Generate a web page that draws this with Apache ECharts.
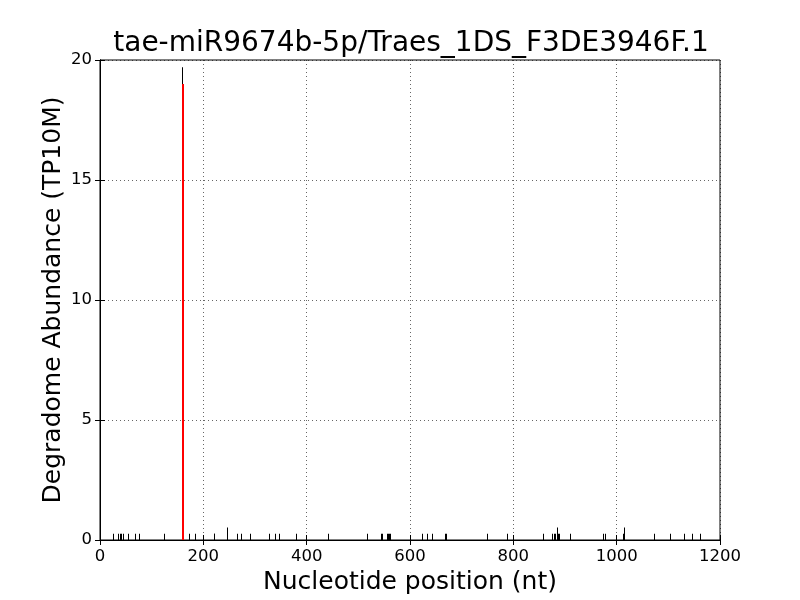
<!DOCTYPE html>
<html><head><meta charset="utf-8">
<script src="https://cdn.jsdelivr.net/npm/echarts@6/dist/echarts.min.js"></script>
<style>html,body{margin:0;padding:0;background:#fff}#c{width:800px;height:600px}</style>
</head><body><div id="c"></div>
<script>
const titleText = 'tae-miR9674b-5p/Traes_1DS_F3DE3946F.1';
const xLabel = 'Nucleotide position (nt)';
const yLabel = 'Degradome Abundance (TP10M)';
const positions = [27,35,39,42,45,55,69,77,124,160,173,185,221,222,246,266,273,291,329,339,348,381,442,518,544,547,556,559,561,563,624,634,643,668,671,750,788,858,875,879,882,885,887,889,910,974,979,1013,1015,1073,1105,1131,1146,1163];
const abundances = [0.26,0.26,0.26,0.26,0.26,0.26,0.26,0.26,0.26,19.7,0.26,0.26,0.26,0.26,0.52,0.26,0.26,0.26,0.26,0.26,0.26,0.26,0.26,0.26,0.26,0.26,0.26,0.26,0.26,0.26,0.26,0.26,0.26,0.26,0.26,0.26,0.26,0.26,0.26,0.26,0.26,0.52,0.26,0.26,0.26,0.26,0.26,0.26,0.52,0.26,0.26,0.26,0.26,0.26];
const sitePosition = [160];
const siteAbundance = [19.0];
const xTicks = [0,200,400,600,800,1000,1200];
const yTicks = [0,5,10,15,20];

const font = 'DejaVu Sans';
const chart = echarts.init(document.getElementById('c'), null, {renderer:'canvas'});
const axisCommon = {
  axisLine:{show:true,lineStyle:{color:'#000',width:1}},
  axisTick:{show:true,inside:true,length:5,lineStyle:{color:'#000',width:1}},
  splitLine:{show:false}
};
function stickRenderer(width, color){
  return function(params, api){
    const x = api.value(0), y = api.value(1);
    const top = api.coord([x, y]);
    const base = api.coord([x, 0]);
    const px = Math.round(top[0] - width/2);
    return {type:'rect', shape:{x:px, y:top[1], width:width, height:base[1]-top[1]},
      style:{fill:color}};
  };
}
chart.setOption({
  animation:false,
  backgroundColor:'#fff',
  title:{text:titleText,left:406,textAlign:'center',top:25,textStyle:{fontFamily:font,fontSize:28,fontWeight:'normal',color:'#000'}},
  grid:{left:100,right:80,top:60,bottom:60,show:true,borderColor:'#000',borderWidth:1},
  xAxis:[
    Object.assign({},axisCommon,{type:'value',min:0,max:1200,interval:200,position:'bottom',
      name:xLabel,nameLocation:'middle',nameGap:30,nameTextStyle:{fontFamily:font,fontSize:25,color:'#000'},
      axisLabel:{fontFamily:font,fontSize:16.5,color:'#000',margin:8,formatter:v=>String(v)},
      splitLine:{show:true,lineStyle:{color:'#000',width:0.6,type:[1,3]}}}),
    Object.assign({},axisCommon,{type:'value',min:0,max:1200,interval:200,position:'top',axisLabel:{show:false}})
  ],
  yAxis:[
    Object.assign({},axisCommon,{type:'value',min:0,max:20,interval:5,position:'left',
      name:yLabel,nameLocation:'middle',nameGap:34,nameMoveOverlap:false,nameTextStyle:{fontFamily:font,fontSize:25,color:'#000'},
      axisLabel:{fontFamily:font,fontSize:16.5,color:'#000',margin:8,formatter:v=>String(v)},
      splitLine:{show:true,lineStyle:{color:'#000',width:0.6,type:[1,3]}}}),
    Object.assign({},axisCommon,{type:'value',min:0,max:20,interval:5,position:'right',axisLabel:{show:false}})
  ],
  series:[
    {type:'custom',xAxisIndex:0,yAxisIndex:0,renderItem:stickRenderer(1,'#000'),
     data:positions.map((p,i)=>[p,abundances[i]])},
    {type:'custom',xAxisIndex:0,yAxisIndex:0,renderItem:stickRenderer(2,'#ff0000'),
     data:sitePosition.map((p,i)=>[p,siteAbundance[i]])}
  ]
});
</script></body></html>
